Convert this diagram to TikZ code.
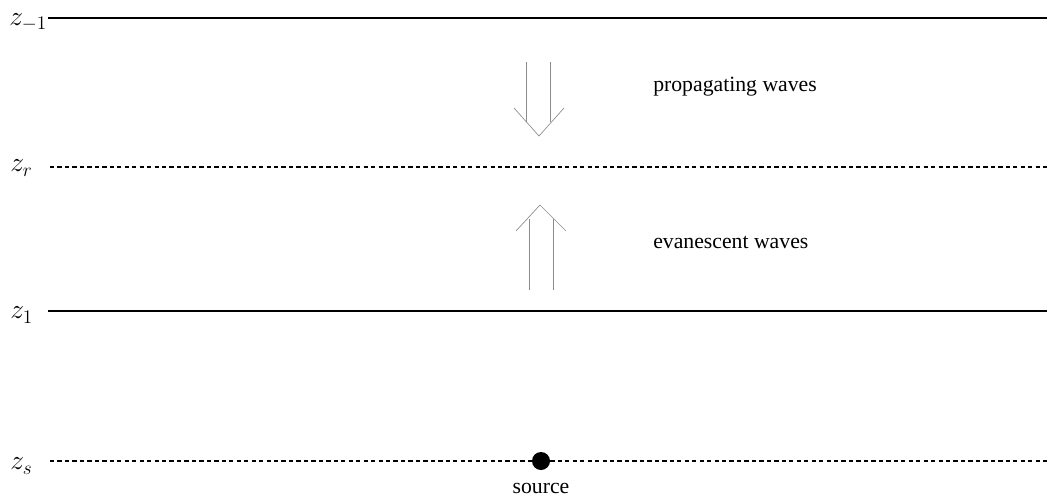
\documentclass[tikz,border=0pt]{standalone}
\usepackage{fontspec}
\setmainfont{Liberation Serif}
\begin{document}
\begin{tikzpicture}[x=0.75pt,y=-0.75pt,
  solidline/.style={line width=1.3pt,black},
  dotline/.style={line width=1.1pt,black,dash pattern=on 3.2pt off 2.4pt},
  faint/.style={line width=0.5pt,black!45},
  lbl/.style={inner sep=0pt,font=\fontsize{16.3}{18}\selectfont},
  zlbl/.style={inner sep=0pt,anchor=west,font=\fontsize{19.5}{22}\selectfont}]
\useasboundingbox (0,0) rectangle (1047,501);
% labels
\node[zlbl] (zm1) at (9,22) {$z_{-1}$};
\node[zlbl] (zr) at (10,168) {$z_r$};
\node[zlbl] (z1) at (10,315) {$z_1$};
\node[zlbl] (zs) at (10,466) {$z_s$};
% lines
\coordinate (e1) at (1047,18);
\coordinate (er) at (1047,167);
\coordinate (e2) at (1047,311);
\coordinate (es) at (1047,461);
\draw[solidline] (48,18) -- (e1);
\draw[dotline] (50,167) -- (er);
\draw[solidline] (48,311) -- (e2);
\draw[dotline] (50,461) -- (es);
% source
\node[circle,fill=black,inner sep=0pt,minimum size=13.5pt] (src) at (541,461) {};
\node[lbl,anchor=north] (srclbl) at (541,483) {source};
% down arrow (hollow)
\draw[faint] (526,62) -- (526,122) (550,62) -- (550,122);
\draw[faint] (514,108) -- (539,136) -- (564,108);
% up arrow (hollow)
\draw[faint] (529,290) -- (529,219) (553,290) -- (553,219);
\draw[faint] (516,231) -- (540,205) -- (566,231);
% texts
\node[lbl,anchor=west] (prop) at (653,87) {propagating waves};
\node[lbl,anchor=west] (evan) at (653,242) {evanescent waves};
\end{tikzpicture}
\end{document}
